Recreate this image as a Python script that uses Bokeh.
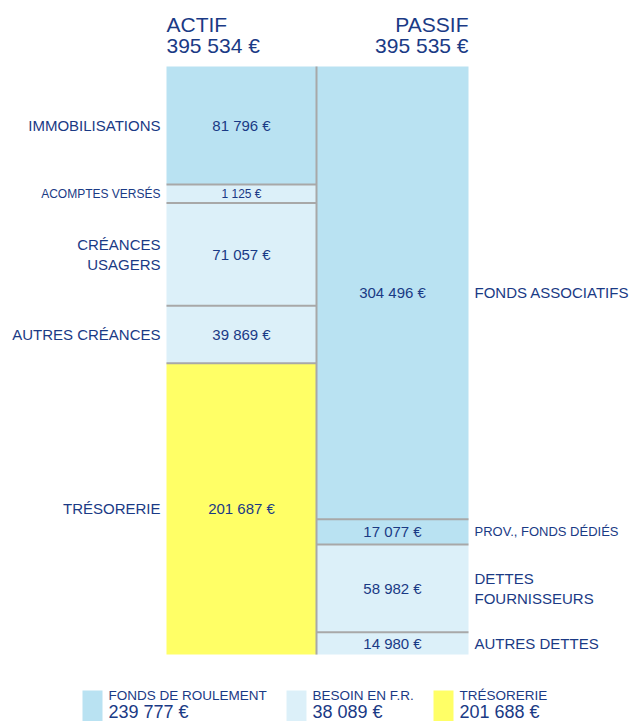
from bokeh.plotting import figure
from bokeh.models import Range1d, ColumnDataSource
from bokeh.core.properties import value
from bokeh.embed import file_html
from bokeh.resources import INLINE

# ---------------- data ----------------
actif_labels = ["IMMOBILISATIONS", "ACOMPTES VERSÉS", "CRÉANCES\nUSAGERS", "AUTRES CRÉANCES", "TRÉSORERIE"]
actif_values = [81796, 1125, 71057, 39869, 201687]
actif_kind = ["FR", "BFR", "BFR", "BFR", "TRESO"]

passif_labels = ["FONDS ASSOCIATIFS", "PROV., FONDS DÉDIÉS", "DETTES\nFOURNISSEURS", "AUTRES DETTES"]
passif_values = [304496, 17077, 58982, 14980]
passif_kind = ["FR", "FR", "BFR", "BFR"]

actif_total = 395534
passif_total = 395535

legend_names = ["FONDS DE ROULEMENT", "BESOIN EN F.R.", "TRÉSORERIE"]
legend_values = [239777, 38089, 201688]
legend_kind = ["FR", "BFR", "TRESO"]

# ---------------- style ----------------
COLORS = {"FR": "#b9e2f2", "BFR": "#dcf0f9", "TRESO": "#ffff66"}
TXT = "#1a3a85"
GRID = "#a8a8a8"
FONT = value("Liberation Sans")
actif_label_fs = ["15px", "12px", "15px", "15px", "15px"]
actif_amt_fs = ["15px", "12px", "15px", "15px", "15px"]
passif_label_fs = ["15px", "13px", "15px", "15px"]
passif_amt_fs = ["15px", "15px", "15px", "15px"]

W, H = 633, 721
BAR_PX = 588.0          # pixel height of the columns
TOP_PX = 66.0           # px from figure top to column top
T = max(actif_total, passif_total)
U = T / BAR_PX          # euros per pixel


def fmt(v):
    return f"{v:,}".replace(",", " ") + " €"


def ypx(px_from_top):
    """figure pixel (from top) -> data value"""
    return T + (TOP_PX - px_from_top) * U


p = figure(width=W, height=H, output_backend="svg", toolbar_location=None,
           x_range=Range1d(0, W), y_range=Range1d(ypx(H), ypx(0)),
           min_border=0)
p.axis.visible = False
p.grid.visible = False
p.outline_line_color = None
p.background_fill_color = "white"


def stack(values, total, min_frac=0.0):
    disp = [max(v, min_frac * total) for v in values]
    s = sum(disp)
    disp = [d * total / s for d in disp]
    tops, bots = [], []
    cur = total
    for d in disp:
        tops.append(cur)
        cur -= d
        bots.append(cur)
    return tops, bots


a_top, a_bot = stack(actif_values, actif_total, min_frac=19.0 / BAR_PX)
p_top, p_bot = stack(passif_values, passif_total)

LX0, LX1 = 166, 316
RX0, RX1 = 316, 468

for (x0, x1, tops, bots, kinds) in [(LX0, LX1, a_top, a_bot, actif_kind),
                                     (RX0, RX1, p_top, p_bot, passif_kind)]:
    src = ColumnDataSource(dict(left=[x0] * len(tops), right=[x1] * len(tops),
                                top=tops, bottom=bots,
                                color=[COLORS[k] for k in kinds]))
    p.quad(left="left", right="right", top="top", bottom="bottom",
           fill_color="color", line_color=None, source=src)
    # separators
    p.segment(x0=[x0] * (len(bots) - 1), x1=[x1] * (len(bots) - 1),
              y0=bots[:-1], y1=bots[:-1], line_color=GRID, line_width=2)

# vertical divider
p.segment(x0=[LX1], x1=[LX1], y0=[0], y1=[T], line_color=GRID, line_width=2)

# labels
def labels(x_lab, align, x_amt, tops, bots, labs, vals, lab_fs, amt_fs):
    mids = [(t + b) / 2 for t, b in zip(tops, bots)]
    src = ColumnDataSource(dict(x=[x_lab] * len(labs), xa=[x_amt] * len(labs), y=mids,
                                lab=labs, amt=[fmt(v) for v in vals], fs=lab_fs, fa=amt_fs))
    p.text(x="x", y="y", text="lab", source=src, text_align=align, text_baseline="middle",
           text_font=FONT, text_font_size="fs", text_color=TXT, text_line_height=1.15)
    p.text(x="xa", y="y", text="amt", source=src, text_align="center", text_baseline="middle",
           text_font=FONT, text_font_size="fa", text_color=TXT)


labels(160, "right", (LX0 + LX1) / 2, a_top, a_bot, actif_labels, actif_values,
       actif_label_fs, actif_amt_fs)
labels(474, "left", (RX0 + RX1) / 2, p_top, p_bot, passif_labels, passif_values,
       passif_label_fs, passif_amt_fs)

# headers
p.text(x=[LX0, LX0], y=[ypx(23.5), ypx(44.5)], text=["ACTIF", fmt(actif_total)],
       text_align="left", text_baseline="middle", text_font=FONT,
       text_font_size="21px", text_color=TXT)
p.text(x=[RX1, RX1], y=[ypx(23.5), ypx(44.5)], text=["PASSIF", fmt(passif_total)],
       text_align="right", text_baseline="middle", text_font=FONT,
       text_font_size="21px", text_color=TXT)

# legend
leg_x = [82, 286, 433]
for lx, name, v, k in zip(leg_x, legend_names, legend_values, legend_kind):
    p.quad(left=[lx], right=[lx + 20], top=[ypx(690)], bottom=[ypx(721)],
           fill_color=COLORS[k], line_color=None)
    p.text(x=[lx + 26], y=[ypx(695)], text=[name], text_align="left",
           text_baseline="middle", text_font=FONT, text_font_size="13.5px",
           text_color=TXT)
    p.text(x=[lx + 26], y=[ypx(711)], text=[fmt(v)], text_align="left",
           text_baseline="middle", text_font=FONT, text_font_size="18px",
           text_color=TXT)

open("out.html", "w").write(file_html(p, INLINE))
